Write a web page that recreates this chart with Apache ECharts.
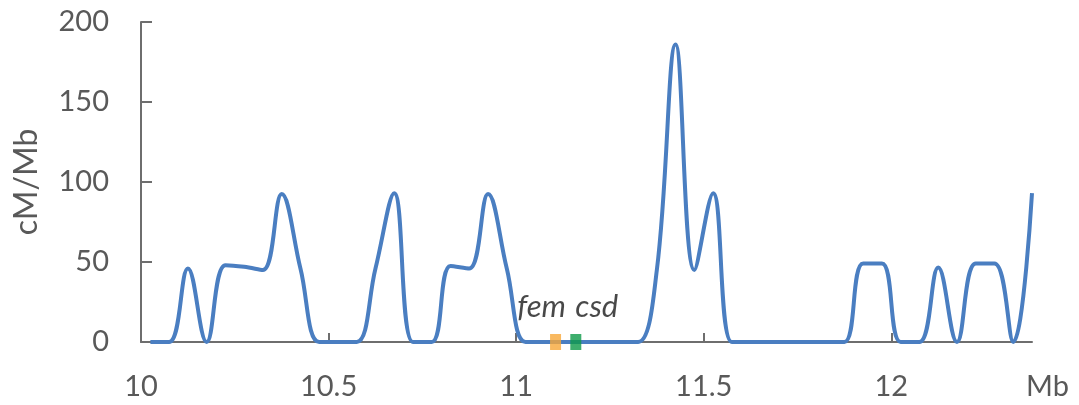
<!DOCTYPE html>
<html>
<head>
<meta charset="utf-8">
<script src="https://cdn.jsdelivr.net/npm/echarts@6/dist/echarts.min.js"></script>
<style>html,body{margin:0;padding:0;background:#fff;}#c{width:1079px;height:405px;}</style>
</head>
<body>
<div id="c"></div>
<script>
// Window midpoints (Mb)
var positions = [10.025,10.075,10.125,10.175,10.225,10.275,10.325,10.375,10.425,10.475,
  10.525,10.575,10.625,10.675,10.725,10.775,10.825,10.875,10.925,10.975,
  11.025,11.075,11.125,11.175,11.225,11.275,11.325,11.375,11.425,11.475,
  11.525,11.575,11.625,11.675,11.725,11.775,11.825,11.875,11.925,11.975,
  12.025,12.075,12.125,12.175,12.225,12.275,12.325,12.375];
// Recombination rate (cM/Mb)
var rates = [0,0,46,0,48,47,45,92.5,46,0,
  0,0,46,93,0,0,47.5,46,92.5,46,
  0,0,0,0,0,0,0,45,186,45,
  93,0,0,0,0,0,0,0,49,49,
  0,0,46.5,0,49,49,0,93];
var genes = ['fem','csd'];
var genePos = [11.105,11.159];
var geneColors = ['#F7A838','#0E9A48'];
var xTicks = [10,10.5,11,11.5,12];

var lineData = positions.map(function(p,i){return [p,rates[i]];});
var font = 'Lato';
var chart = echarts.init(document.getElementById('c'));
var geneSeries = genes.map(function(g,i){
  return {
    type:'scatter', z:5,
    data:[[genePos[i],0]],
    symbol:'rect', symbolSize:[11,16],
    itemStyle:{color:geneColors[i]},
    label:{show:true, formatter:g, position:'top', distance:4,
      offset:[i===0?-14:21,-8],
      fontFamily:font, fontStyle:'italic', fontSize:31, color:'#1a1a1a'}
  };
});
chart.setOption({
  animation:false,
  grid:{left:141,right:47,top:22,bottom:63},
  xAxis:{type:'value',min:10,max:12.375,interval:0.5,
    name:'Mb',nameLocation:'end',nameGap:-6,
    nameTextStyle:{fontFamily:font,fontSize:29,color:'#595959',verticalAlign:'top',padding:[30,0,0,0]},
    axisLine:{lineStyle:{color:'#6e6e6e',width:2}},
    axisTick:{show:true,inside:true,length:9,customValues:xTicks,lineStyle:{color:'#6e6e6e',width:2}},
    axisLabel:{customValues:xTicks,margin:30,fontFamily:font,fontSize:29,color:'#595959'},
    splitLine:{show:false}},
  yAxis:{type:'value',min:0,max:200,interval:50,
    name:'cM/Mb',nameLocation:'middle',nameGap:98,
    nameTextStyle:{fontFamily:font,fontSize:32,color:'#595959'},
    axisLine:{show:true,lineStyle:{color:'#6e6e6e',width:2}},
    axisTick:{show:true,inside:true,length:11,lineStyle:{color:'#6e6e6e',width:2}},
    axisLabel:{margin:32,fontFamily:font,fontSize:29,color:'#595959'},
    splitLine:{show:false}},
  series:[{type:'line',data:lineData,smooth:0.4,showSymbol:false,z:3,
    lineStyle:{color:'#4A7EC1',width:4}}].concat(geneSeries)
});
</script>
</body>
</html>
